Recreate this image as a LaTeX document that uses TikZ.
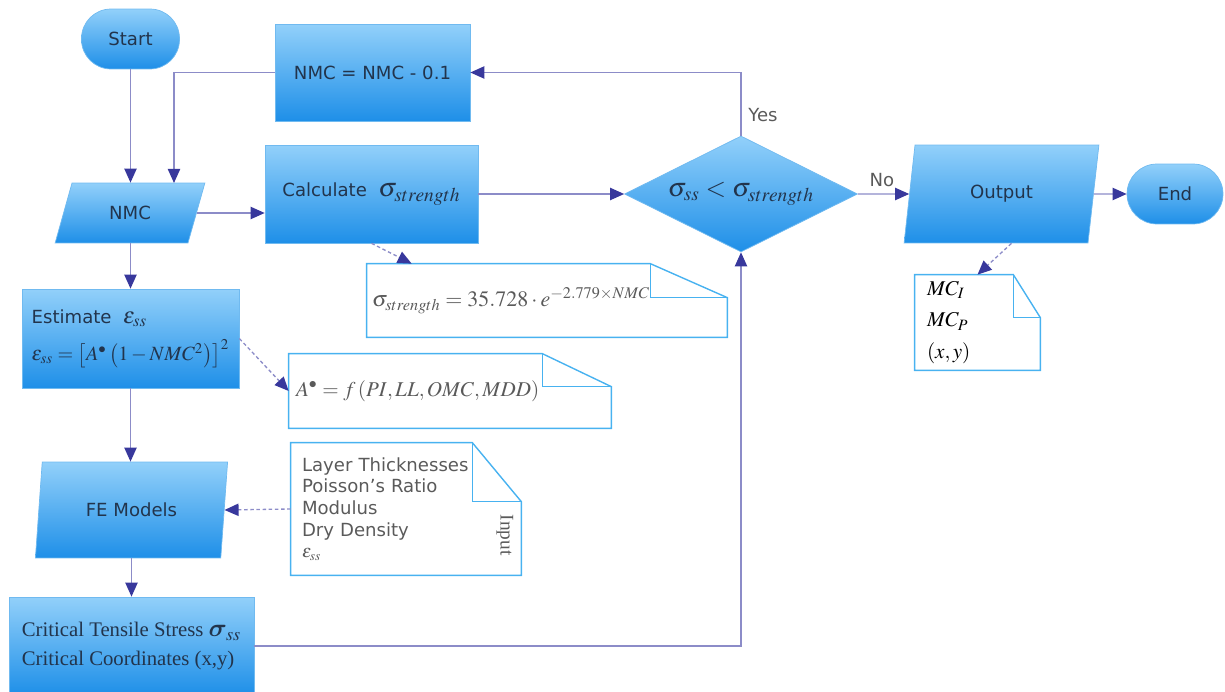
\documentclass[tikz,border=0pt]{standalone}
\usepackage{amsmath}
\usepackage{bm}
\usepackage{mathptmx}
\usepackage{fontspec}
\setmainfont{Liberation Serif}
\setsansfont{DejaVu Sans}
\usepackage{tikz}
\usetikzlibrary{shapes.geometric, positioning, arrows.meta, calc}
\definecolor{boxtop}{RGB}{146,208,250}
\definecolor{boxbot}{RGB}{30,143,232}
\definecolor{boxframe}{RGB}{112,186,240}
\definecolor{noteframe}{RGB}{72,178,240}
\definecolor{linecol}{RGB}{140,140,200}
\definecolor{tipcol}{RGB}{56,56,156}
\definecolor{boxtext}{RGB}{34,52,76}
\definecolor{notetext}{RGB}{90,90,90}

% note with a folded corner: name, fold width, fold height
\newcommand{\foldnote}[3]{%
  \draw[noteline] (#1.north west) -- ([xshift=-#2]#1.north east) -- ([yshift=-#3]#1.north east) -- (#1.south east) -- (#1.south west) -- cycle;
  \draw[noteline] ([xshift=-#2]#1.north east) |- ([yshift=-#3]#1.north east);}

\begin{document}
\begin{tikzpicture}[x=0.02cm, y=-0.02cm,
        box/.style={draw=boxframe, top color=boxtop, bottom color=boxbot, rectangle, align=center, text=boxtext, font=\sffamily\fontsize{10.3}{12.4}\selectfont},
        term/.style={box, rounded corners=0.59cm},
        io/.style={box, trapezium, trapezium stretches=true, inner sep=0pt},
        note/.style={rectangle, inner sep=0pt, align=left, text=notetext, font=\sffamily\fontsize{10.3}{12.3}\selectfont},
        noteline/.style={draw=noteframe, line width=0.8pt},
        lbl/.style={text=notetext, font=\sffamily\fontsize{10.3}{12.4}\selectfont},
        arr/.style={-{Triangle[length=8pt, width=7pt, color=tipcol]}, draw=linecol, line width=0.75pt},
        darr/.style={arr, dash pattern=on 2pt off 1.5pt}
    ]
    \useasboundingbox (0,0) rectangle (1225,692);

    % main flow
    \node[term, minimum width=1.96cm, minimum height=1.2cm] (start) at (130.5,39) {Start};
    \node[box, minimum width=3.9cm, minimum height=1.94cm] (upd) at (372.5,72.5) {NMC = NMC - 0.1};
    \node[io, trapezium left angle=66, trapezium right angle=114, minimum width=3cm, minimum height=1.2cm] (nmc) at (130,213) {NMC};
    \node[box, minimum width=4.26cm, minimum height=1.96cm] (calc) at (371.5,194) {Calculate\ \ {\fontsize{15}{15}\selectfont$\sigma_{strength}$}};
    \node[box, diamond, aspect=2, inner sep=0pt, minimum width=4.66cm, minimum height=2.32cm] (dec) at (741,194) {\fontsize{15}{15}\selectfont$\sigma_{ss} < \sigma_{strength}$};
    \node[io, trapezium left angle=77, trapezium right angle=103, minimum width=3.9cm, minimum height=1.96cm] (out) at (1001.5,194) {Output};
    \node[term, minimum width=1.92cm, minimum height=1.2cm, rounded corners=0.6cm] (end) at (1175,194) {End};
    \node[box, align=left, inner xsep=2pt, minimum width=4.34cm, minimum height=1.98cm] (est) at (130.5,338.5) {Estimate\ \ {\fontsize{13}{13}\selectfont$\varepsilon_{ss}$}\\[6pt]
        {\fontsize{11.5}{11.5}\selectfont$\varepsilon_{ss} = \left[A^{\bullet}\left(1 - NMC^{2}\right)\right]^{2}$}};
    \node[io, trapezium left angle=76, trapezium right angle=104, minimum width=3.86cm, minimum height=1.92cm] (fe) at (131.5,510) {FE Models};
    \node[box, align=left, minimum width=4.9cm, minimum height=1.96cm, font=\rmfamily\fontsize{11.8}{16.5}\selectfont] (crit) at (131.5,646) {Critical Tensile Stress {\fontsize{14}{14}\selectfont$\bm{\sigma}_{ss}$}\\Critical Coordinates (x,y)};
    \coordinate (nmcin) at (174,183);

    % notes
    \node[note, minimum width=7.2cm, minimum height=1.46cm, text width=7.0cm] (sgnote) at (547,300.5) {\fontsize{12.5}{12.5}\selectfont$\sigma_{strength} = 35.728\cdot e^{-2.779\times NMC}$};
    \node[note, minimum width=6.44cm, minimum height=1.48cm, text width=6.16cm] (anote) at (450,391) {\fontsize{12}{12}\selectfont$A^{\bullet} = f\left(PI, LL, OMC, MDD\right)$};
    \node[note, minimum width=4.6cm, minimum height=2.64cm, text width=4.16cm] (innote) at (406,509) {Layer Thicknesses\\Poisson's Ratio\\Modulus\\Dry Density\\$\varepsilon_{ss}$};
    \node[rotate=-90, text=notetext, font=\rmfamily\fontsize{11}{13}\selectfont] (inlbl) at (505,535) {Input};
    \node[note, minimum width=2.5cm, minimum height=1.9cm, text width=2.02cm, text=black, font=\rmfamily\fontsize{12}{18}\selectfont] (mcnote) at (977.5,322.5) {$MC_{I}$\\$MC_{P}$\\$(x,y)$};
    \foldnote{sgnote}{1.54cm}{0.68cm}
    \foldnote{anote}{1.38cm}{0.66cm}
    \foldnote{innote}{0.98cm}{1.18cm}
    \foldnote{mcnote}{0.54cm}{0.86cm}

    % connectors
    \draw[arr] (start.south) -- (start.south |- nmc.north);
    \draw[arr] (upd.west) -| (nmcin);
    \draw[arr] (nmc.east) -- (nmc.east -| calc.west);
    \draw[arr] (calc.east) -- (dec.west);
    \draw[arr] (dec.north) |- (upd.east);
    \draw[arr] (dec.east) -- (out.west);
    \draw[arr] (out.east) -- (end.west);
    \draw[arr] (nmc.south -| est.north) -- (est.north);
    \draw[arr] (est.south) -- (est.south |- fe.north);
    \draw[arr] (fe.south -| crit.north) -- (crit.north);
    \draw[arr] (crit.east) -| (dec.south);
    \node[lbl] (yes) at (763,115) {Yes};
    \node[lbl] (no) at (882,180) {No};

    % dashed links to the notes
    \draw[darr] (calc.south) -- ([xshift=0.9cm]sgnote.north west);
    \draw[darr] (est.east) -- (anote.west);
    \draw[darr] (innote.west) -- (fe.east);
    \draw[darr] ([xshift=0.2cm]out.south) -- (mcnote.north);

\end{tikzpicture}
\end{document}
